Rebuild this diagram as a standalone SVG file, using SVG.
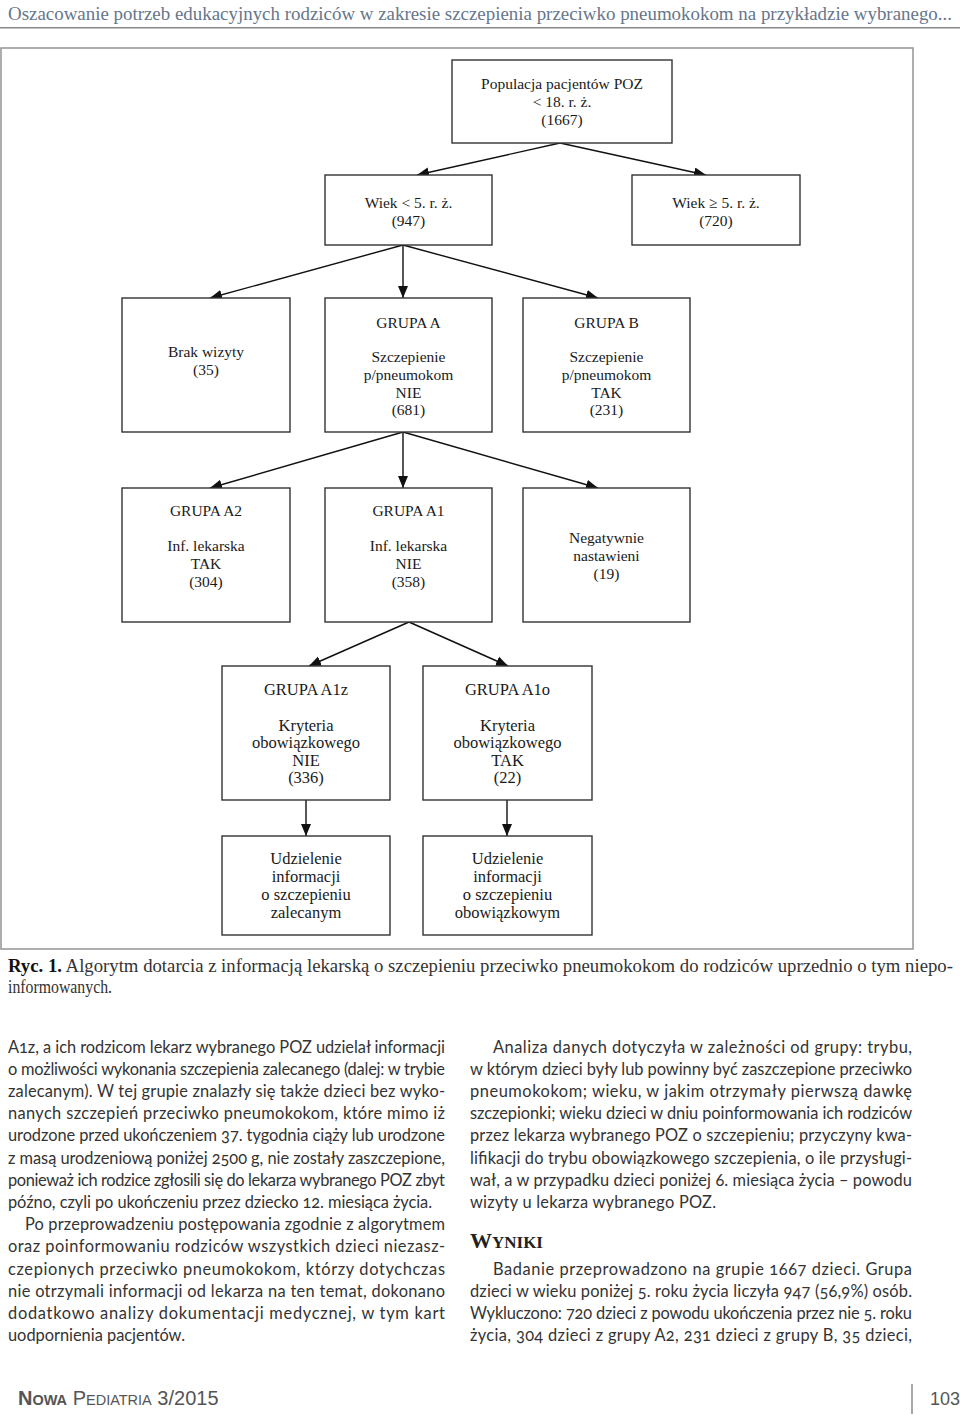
<svg xmlns="http://www.w3.org/2000/svg" width="960" height="1415" viewBox="0 0 960 1415">
<defs>
<marker id="ah" markerUnits="userSpaceOnUse" markerWidth="13" markerHeight="11" refX="12" refY="5" orient="auto">
<path d="M0,0 L12,5 L0,10 z" fill="#111"/>
</marker>
<style>
.box{fill:#fff;stroke:#333;stroke-width:1.4}
.bt{font-family:"Liberation Serif",serif;font-size:15.5px;fill:#1a1a1a;text-anchor:middle}
.bt2{font-family:"Liberation Serif",serif;font-size:16.5px;fill:#1a1a1a;text-anchor:middle}
.con{stroke:#111;stroke-width:1.4;fill:none;marker-end:url(#ah)}
.body{font-family:Lato,"Open Sans",sans-serif;font-size:16.4px;fill:#333;font-variant-numeric:oldstyle-nums}
.hdr{font-family:"Liberation Serif",serif;font-size:18.5px;fill:#66768c}
.cap{font-family:"Liberation Serif",serif;font-size:18px;fill:#333}
</style>
</defs>
<rect width="960" height="1415" fill="#fff"/>
<text class="hdr" x="8" y="20" textLength="944" lengthAdjust="spacingAndGlyphs">Oszacowanie potrzeb edukacyjnych rodziców w zakresie szczepienia przeciwko pneumokokom na przykładzie wybranego...</text>
<line x1="0" y1="27.7" x2="960" y2="27.7" stroke="#888" stroke-width="1.5"/>
<rect x="1" y="48" width="912" height="901" fill="none" stroke="#9a9a9a" stroke-width="1.6"/>

<g id="connectors">
<line class="con" x1="560" y1="143" x2="417" y2="175"/>
<line class="con" x1="560" y1="143" x2="706" y2="175"/>
<line class="con" x1="403" y1="245" x2="210" y2="298"/>
<line class="con" x1="403" y1="245" x2="403" y2="298"/>
<line class="con" x1="403" y1="245" x2="598" y2="298"/>
<line class="con" x1="403" y1="432" x2="210" y2="488"/>
<line class="con" x1="403" y1="432" x2="403" y2="488"/>
<line class="con" x1="403" y1="432" x2="598" y2="488"/>
<line class="con" x1="409" y1="622" x2="309" y2="666"/>
<line class="con" x1="409" y1="622" x2="508" y2="666"/>
<line class="con" x1="306" y1="800" x2="306" y2="836"/>
<line class="con" x1="507" y1="800" x2="507" y2="836"/>
</g>

<g id="n-pop"><rect class="box" x="452" y="60" width="220" height="83"/>
<text class="bt" x="562" y="89">Populacja pacjentów POZ</text>
<text class="bt" x="562" y="107">&lt; 18. r. ż.</text>
<text class="bt" x="562" y="125">(1667)</text></g>

<g id="n-wiek-lt5"><rect class="box" x="325" y="175" width="167" height="70"/>
<text class="bt" x="408.5" y="208">Wiek &lt; 5. r. ż.</text>
<text class="bt" x="408.5" y="226">(947)</text></g>

<g id="n-wiek-ge5"><rect class="box" x="632" y="175" width="168" height="70"/>
<text class="bt" x="716" y="208">Wiek ≥ 5. r. ż.</text>
<text class="bt" x="716" y="226">(720)</text></g>

<g id="n-brak"><rect class="box" x="122" y="298" width="168" height="134"/>
<text class="bt" x="206" y="357">Brak wizyty</text>
<text class="bt" x="206" y="375">(35)</text></g>

<g id="n-grupa-a"><rect class="box" x="325" y="298" width="167" height="134"/>
<text class="bt" x="408.5" y="328">GRUPA A</text>
<text class="bt" x="408.5" y="362">Szczepienie</text>
<text class="bt" x="408.5" y="380">p/pneumokom</text>
<text class="bt" x="408.5" y="398">NIE</text>
<text class="bt" x="408.5" y="415">(681)</text></g>

<g id="n-grupa-b"><rect class="box" x="523" y="298" width="167" height="134"/>
<text class="bt" x="606.5" y="328">GRUPA B</text>
<text class="bt" x="606.5" y="362">Szczepienie</text>
<text class="bt" x="606.5" y="380">p/pneumokom</text>
<text class="bt" x="606.5" y="398">TAK</text>
<text class="bt" x="606.5" y="415">(231)</text></g>

<g id="n-a2"><rect class="box" x="122" y="488" width="168" height="134"/>
<text class="bt" x="206" y="516">GRUPA A2</text>
<text class="bt" x="206" y="551">Inf. lekarska</text>
<text class="bt" x="206" y="569">TAK</text>
<text class="bt" x="206" y="587">(304)</text></g>

<g id="n-a1"><rect class="box" x="325" y="488" width="167" height="134"/>
<text class="bt" x="408.5" y="516">GRUPA A1</text>
<text class="bt" x="408.5" y="551">Inf. lekarska</text>
<text class="bt" x="408.5" y="569">NIE</text>
<text class="bt" x="408.5" y="587">(358)</text></g>

<g id="n-neg"><rect class="box" x="523" y="488" width="167" height="134"/>
<text class="bt" x="606.5" y="543">Negatywnie</text>
<text class="bt" x="606.5" y="561">nastawieni</text>
<text class="bt" x="606.5" y="579">(19)</text></g>

<g id="n-a1z"><rect class="box" x="222" y="666" width="168" height="134"/>
<text class="bt2" x="306" y="695">GRUPA A1z</text>
<text class="bt2" x="306" y="731">Kryteria</text>
<text class="bt2" x="306" y="748">obowiązkowego</text>
<text class="bt2" x="306" y="766">NIE</text>
<text class="bt2" x="306" y="783">(336)</text></g>

<g id="n-a1o"><rect class="box" x="423" y="666" width="169" height="134"/>
<text class="bt2" x="507.5" y="695">GRUPA A1o</text>
<text class="bt2" x="507.5" y="731">Kryteria</text>
<text class="bt2" x="507.5" y="748">obowiązkowego</text>
<text class="bt2" x="507.5" y="766">TAK</text>
<text class="bt2" x="507.5" y="783">(22)</text></g>

<g id="n-zal"><rect class="box" x="222" y="836" width="168" height="99"/>
<text class="bt2" x="306" y="864">Udzielenie</text>
<text class="bt2" x="306" y="882">informacji</text>
<text class="bt2" x="306" y="900">o szczepieniu</text>
<text class="bt2" x="306" y="918">zalecanym</text></g>

<g id="n-obo"><rect class="box" x="423" y="836" width="169" height="99"/>
<text class="bt2" x="507.5" y="864">Udzielenie</text>
<text class="bt2" x="507.5" y="882">informacji</text>
<text class="bt2" x="507.5" y="900">o szczepieniu</text>
<text class="bt2" x="507.5" y="918">obowiązkowym</text></g>

<g id="caption">
<text class="cap" x="8" y="972" textLength="945" lengthAdjust="spacingAndGlyphs"><tspan font-weight="bold" fill="#111">Ryc. 1.</tspan> Algorytm dotarcia z informacją lekarską o szczepieniu przeciwko pneumokokom do rodziców uprzednio o tym niepo-</text>
<text class="cap" x="8" y="993" textLength="104" lengthAdjust="spacingAndGlyphs">informowanych.</text>
</g>

<g id="col-left" class="body">
<text x="8" y="1053" textLength="437" lengthAdjust="spacing">A1z, a ich rodzicom lekarz wybranego POZ udzielał informacji</text>
<text x="8" y="1075" textLength="437" lengthAdjust="spacing">o możliwości wykonania szczepienia zalecanego (dalej: w trybie</text>
<text x="8" y="1097" textLength="437" lengthAdjust="spacing">zalecanym). W tej grupie znalazły się także dzieci bez wyko-</text>
<text x="8" y="1119" textLength="437" lengthAdjust="spacing">nanych szczepień przeciwko pneumokokom, które mimo iż</text>
<text x="8" y="1141" textLength="437" lengthAdjust="spacing">urodzone przed ukończeniem 37. tygodnia ciąży lub urodzone</text>
<text x="8" y="1164" textLength="437" lengthAdjust="spacing">z masą urodzeniową poniżej 2500 g, nie zostały zaszczepione,</text>
<text x="8" y="1186" textLength="437" lengthAdjust="spacing">ponieważ ich rodzice zgłosili się do lekarza wybranego POZ zbyt</text>
<text x="8" y="1208" textLength="424" lengthAdjust="spacing">późno, czyli po ukończeniu przez dziecko 12. miesiąca życia.</text>
<text x="25" y="1230" textLength="420" lengthAdjust="spacing">Po przeprowadzeniu postępowania zgodnie z algorytmem</text>
<text x="8" y="1252" textLength="437" lengthAdjust="spacing">oraz poinformowaniu rodziców wszystkich dzieci niezasz-</text>
<text x="8" y="1275" textLength="437" lengthAdjust="spacing">czepionych przeciwko pneumokokom, którzy dotychczas</text>
<text x="8" y="1297" textLength="437" lengthAdjust="spacing">nie otrzymali informacji od lekarza na ten temat, dokonano</text>
<text x="8" y="1319" textLength="437" lengthAdjust="spacing">dodatkowo analizy dokumentacji medycznej, w tym kart</text>
<text x="8" y="1341" textLength="177" lengthAdjust="spacing">uodpornienia pacjentów.</text>
</g>

<g id="col-right" class="body">
<text x="493" y="1053" textLength="419" lengthAdjust="spacing">Analiza danych dotyczyła w zależności od grupy: trybu,</text>
<text x="470" y="1075" textLength="442" lengthAdjust="spacing">w którym dzieci były lub powinny być zaszczepione przeciwko</text>
<text x="470" y="1097" textLength="442" lengthAdjust="spacing">pneumokokom; wieku, w jakim otrzymały pierwszą dawkę</text>
<text x="470" y="1119" textLength="442" lengthAdjust="spacing">szczepionki; wieku dzieci w dniu poinformowania ich rodziców</text>
<text x="470" y="1141" textLength="442" lengthAdjust="spacing">przez lekarza wybranego POZ o szczepieniu; przyczyny kwa-</text>
<text x="470" y="1164" textLength="442" lengthAdjust="spacing">lifikacji do trybu obowiązkowego szczepienia, o ile przysługi-</text>
<text x="470" y="1186" textLength="442" lengthAdjust="spacing">wał, a w przypadku dzieci poniżej 6. miesiąca życia – powodu</text>
<text x="470" y="1208" textLength="246" lengthAdjust="spacing">wizyty u lekarza wybranego POZ.</text>
<text x="470" y="1248" font-family="Liberation Serif,serif" font-weight="bold" fill="#222" style="font-variant:normal" textLength="73" lengthAdjust="spacingAndGlyphs"><tspan font-size="22">W</tspan><tspan font-size="17">YNIKI</tspan></text>
<text x="493" y="1275" textLength="419" lengthAdjust="spacing">Badanie przeprowadzono na grupie 1667 dzieci. Grupa</text>
<text x="470" y="1297" textLength="442" lengthAdjust="spacing">dzieci w wieku poniżej 5. roku życia liczyła 947 (56,9%) osób.</text>
<text x="470" y="1319" textLength="442" lengthAdjust="spacing">Wykluczono: 720 dzieci z powodu ukończenia przez nie 5. roku</text>
<text x="470" y="1341" textLength="442" lengthAdjust="spacing">życia, 304 dzieci z grupy A2, 231 dzieci z grupy B, 35 dzieci,</text>
</g>

<g id="footer" font-family="Liberation Sans,sans-serif" fill="#555">
<text x="18" y="1405"><tspan font-size="20" font-weight="bold">N</tspan><tspan font-size="14.5" font-weight="bold">OWA</tspan><tspan font-size="20"> P</tspan><tspan font-size="14.5">EDIATRIA</tspan><tspan font-size="20"> 3/2015</tspan></text>
<line x1="912" y1="1384" x2="912" y2="1414" stroke="#555" stroke-width="1"/>
<text x="930" y="1405" font-size="18">103</text>
</g>
</svg>
